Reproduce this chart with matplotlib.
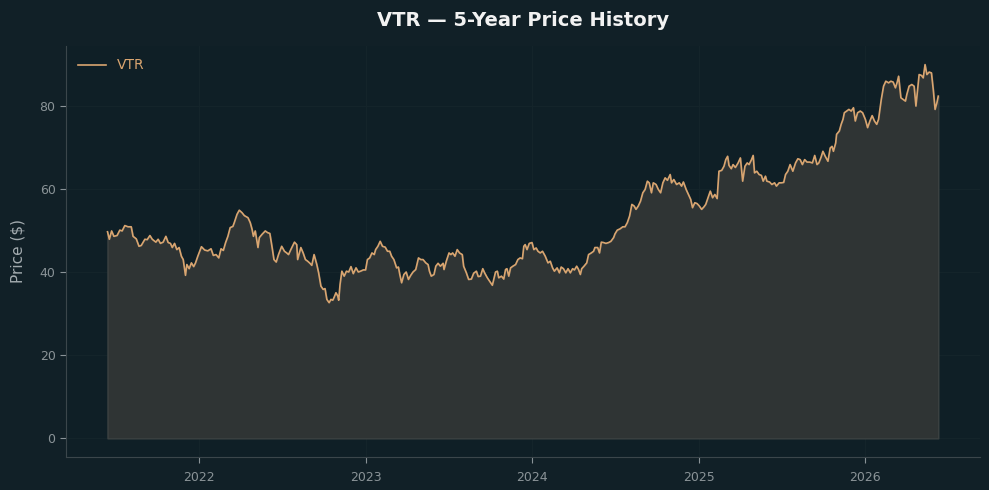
import pandas as pd
import matplotlib
matplotlib.use("Agg")
import matplotlib.pyplot as plt
import matplotlib.dates as mdates

# -------------------------------
# Data
# -------------------------------
ticker = "VTR"
start_date = "2021-06-14"

# days since start_date
days = [
    0, 4, 9, 14, 21, 27, 32, 38, 45, 52, 56, 63, 69, 74, 82, 87, 93, 98, 106, 111,
    116, 122, 128, 133, 138, 142, 147, 152, 157, 162, 166, 171, 174, 179, 184, 189, 193, 198, 206, 213,
    220, 227, 232, 238, 244, 249, 254, 259, 264, 269, 275, 278, 284, 289, 295, 300, 308, 313, 317, 320,
    324, 330, 333, 339, 346, 351, 356, 361, 365, 370, 375, 382, 388, 393, 397, 402, 410, 415, 417, 424,
    429, 434, 439, 444, 448, 453, 459, 463, 468, 473, 477, 481, 486, 490, 494, 497, 501, 505, 507, 510,
    514, 519, 524, 529, 534, 539, 545, 550, 555, 561, 566, 570, 575, 580, 585, 588, 593, 598, 603, 609,
    614, 619, 623, 628, 634, 638, 641, 645, 650, 655, 660, 665, 670, 676, 682, 687, 692, 698, 703, 706,
    710, 716, 720, 725, 730, 736, 738, 743, 749, 753, 757, 762, 767, 772, 778, 781, 787, 792, 798, 803,
    809, 813, 818, 823, 827, 833, 838, 844, 847, 851, 855, 858, 864, 869, 873, 876, 880, 884, 889, 895,
    900, 905, 910, 913, 916, 920, 925, 931, 935, 940, 944, 949, 954, 960, 966, 971, 976, 980, 986, 991,
    995, 1000, 1005, 1010, 1015, 1020, 1024, 1029, 1033, 1037, 1040, 1045, 1051, 1055, 1061, 1066, 1069, 1075, 1079, 1083,
    1088, 1093, 1099, 1104, 1110, 1113, 1118, 1124, 1130, 1135, 1140, 1145, 1150, 1155, 1159, 1164, 1169, 1174, 1179, 1184,
    1188, 1193, 1197, 1203, 1208, 1213, 1218, 1223, 1228, 1234, 1237, 1242, 1248, 1254, 1259, 1263, 1269, 1274, 1279, 1283,
    1288, 1293, 1298, 1303, 1308, 1312, 1317, 1322, 1327, 1332, 1337, 1341, 1347, 1352, 1356, 1360, 1363, 1368, 1372, 1377,
    1383, 1388, 1393, 1398, 1403, 1407, 1412, 1416, 1419, 1424, 1429, 1434, 1438, 1443, 1446, 1452, 1457, 1463, 1467, 1473,
    1478, 1483, 1487, 1492, 1497, 1503, 1509, 1514, 1519, 1524, 1529, 1534, 1540, 1546, 1551, 1556, 1560, 1565, 1569, 1574,
    1580, 1585, 1589, 1592, 1597, 1599, 1605, 1609, 1613, 1616, 1621, 1626, 1631, 1636, 1640, 1645, 1651, 1656, 1662, 1667,
    1672, 1677, 1682, 1687, 1691, 1697, 1702, 1707, 1713, 1718, 1723, 1728, 1732, 1735, 1740, 1745, 1750, 1753, 1758, 1764,
    1769, 1773, 1777, 1780, 1785, 1789, 1793, 1797, 1802, 1807, 1811, 1815, 1819, 1822,
]

prices = [
    49.8, 48.0, 50.0, 48.7, 48.9, 50.2, 50.0, 51.3, 51.0, 51.0, 48.7, 48.1, 46.3, 46.5, 48.0, 47.9, 48.9, 48.0, 47.3, 48.0,
    47.0, 47.3, 48.7, 47.2, 47.0, 46.0, 47.0, 45.5, 46.0, 43.9, 43.1, 39.3, 41.9, 40.9, 42.3, 41.4, 42.3, 43.9, 46.2, 45.4,
    45.2, 45.7, 44.1, 44.3, 43.5, 45.7, 45.3, 47.2, 48.7, 50.8, 51.1, 52.0, 54.0, 55.0, 54.4, 53.7, 53.2, 52.0, 50.4, 48.7,
    50.0, 46.0, 48.4, 49.2, 50.0, 49.6, 49.4, 46.0, 43.1, 42.5, 44.3, 46.3, 45.1, 44.7, 44.3, 45.5, 47.3, 46.7, 43.1, 46.0,
    44.7, 43.1, 42.7, 42.2, 41.7, 44.3, 41.9, 39.9, 36.7, 35.9, 36.1, 33.5, 32.7, 33.5, 33.3, 34.0, 35.1, 34.3, 33.3, 37.1,
    40.3, 39.1, 40.3, 40.1, 41.4, 39.7, 41.1, 40.1, 40.3, 40.6, 40.6, 43.1, 43.5, 44.7, 44.3, 45.5, 46.3, 47.5, 46.3, 46.1,
    45.1, 45.1, 43.9, 43.1, 41.1, 41.3, 39.5, 37.5, 39.5, 40.1, 38.3, 39.3, 40.1, 40.7, 43.5, 43.1, 43.1, 42.3, 41.9, 40.3,
    39.1, 39.5, 41.5, 42.2, 41.5, 42.2, 40.7, 42.7, 44.7, 44.3, 44.7, 43.9, 45.5, 44.7, 44.3, 41.5, 39.9, 38.3, 38.4, 39.8,
    40.3, 39.0, 39.1, 40.9, 39.9, 38.7, 37.9, 36.9, 38.3, 40.1, 40.3, 38.7, 39.1, 38.4, 40.7, 40.9, 39.1, 41.1, 41.5, 41.9,
    43.1, 43.5, 43.3, 46.3, 46.7, 45.5, 47.0, 47.2, 45.5, 45.9, 45.1, 44.7, 45.1, 43.9, 42.3, 42.7, 41.1, 40.3, 41.1, 39.9,
    41.3, 40.9, 39.9, 40.9, 39.9, 40.9, 40.6, 41.5, 40.7, 39.5, 40.9, 41.5, 42.3, 44.3, 44.7, 45.1, 46.0, 46.0, 44.7, 47.3,
    47.2, 47.0, 47.2, 47.5, 48.4, 49.3, 50.2, 50.5, 51.0, 51.0, 52.0, 53.6, 56.4, 56.0, 55.2, 56.0, 57.2, 59.2, 60.0, 62.0,
    61.6, 59.2, 61.6, 61.2, 60.0, 59.2, 61.6, 62.8, 62.2, 63.6, 61.6, 62.4, 61.2, 61.6, 60.8, 61.8, 60.0, 58.8, 57.6, 55.6,
    56.8, 56.6, 56.0, 55.2, 55.8, 56.4, 58.0, 59.6, 58.0, 58.8, 57.8, 64.4, 64.6, 65.6, 67.2, 68.0, 65.8, 65.0, 66.0, 65.3,
    66.4, 67.6, 62.0, 65.6, 66.4, 66.0, 67.1, 68.2, 64.0, 64.4, 63.6, 63.4, 62.0, 63.2, 62.0, 61.8, 61.2, 61.6, 60.8, 61.6,
    61.6, 61.7, 63.6, 64.4, 66.0, 64.4, 66.4, 67.4, 67.2, 66.0, 67.2, 66.6, 66.6, 66.4, 68.2, 66.0, 66.4, 67.8, 69.2, 68.0,
    66.8, 70.0, 70.4, 69.2, 71.2, 73.3, 74.1, 75.7, 76.9, 78.5, 78.9, 79.3, 78.9, 79.7, 76.5, 78.5, 78.9, 78.5, 76.9, 74.9,
    76.5, 77.8, 76.5, 75.7, 76.9, 81.7, 84.9, 86.1, 85.7, 86.1, 85.9, 84.5, 85.9, 87.3, 82.1, 81.7, 81.3, 82.9, 84.9, 85.3,
    84.9, 80.1, 84.5, 87.7, 87.5, 86.9, 90.1, 87.7, 88.3, 88.1, 84.1, 79.3, 80.9, 82.5,
]

# -------------------------------
# Colours
# -------------------------------
BG = "#112027"
AX_BG = "#0f1f26"
LINE = "#d9a570"
FILL = "#2f3434"
SPINE = "#3b464b"
TICK = "#8a9397"


def plot_price_history():
    dates = pd.Timestamp(start_date) + pd.to_timedelta(days, unit="D")

    fig = plt.figure(figsize=(9.89, 4.9), dpi=100, facecolor=BG)
    ax = fig.add_axes([0.0667, 0.0673, 0.924, 0.839])
    ax.set_facecolor(AX_BG)

    ax.fill_between(dates, prices, 0, facecolor=FILL, edgecolor="#3c4242",
                    linewidth=1.0, zorder=1)
    ax.plot(dates, prices, color=LINE, linewidth=1.2, label=ticker, zorder=2)

    ax.set_title(f"{ticker} \u2014 5-Year Price History", color="#f2f2f2",
                 fontsize=14, fontweight="bold", pad=14)
    ax.set_ylabel("Price ($)", color="#a3abaf", fontsize=11, labelpad=10)

    ax.xaxis.set_major_locator(mdates.YearLocator())
    ax.xaxis.set_major_formatter(mdates.DateFormatter("%Y"))
    ax.tick_params(colors=TICK, labelsize=9, length=4, width=0.8)
    ax.tick_params(axis="x", pad=6)

    # grid is barely visible in the original
    ax.grid(True, color="#14242a", linewidth=0.8)
    ax.set_axisbelow(True)

    for side in ("top", "right"):
        ax.spines[side].set_visible(False)
    for side in ("left", "bottom"):
        ax.spines[side].set_color(SPINE)

    leg = ax.legend(loc="upper left", frameon=False, fontsize=10)
    for text in leg.get_texts():
        text.set_color(LINE)

    fig.savefig("out.png", dpi=100, facecolor=BG)


if __name__ == "__main__":
    plot_price_history()
